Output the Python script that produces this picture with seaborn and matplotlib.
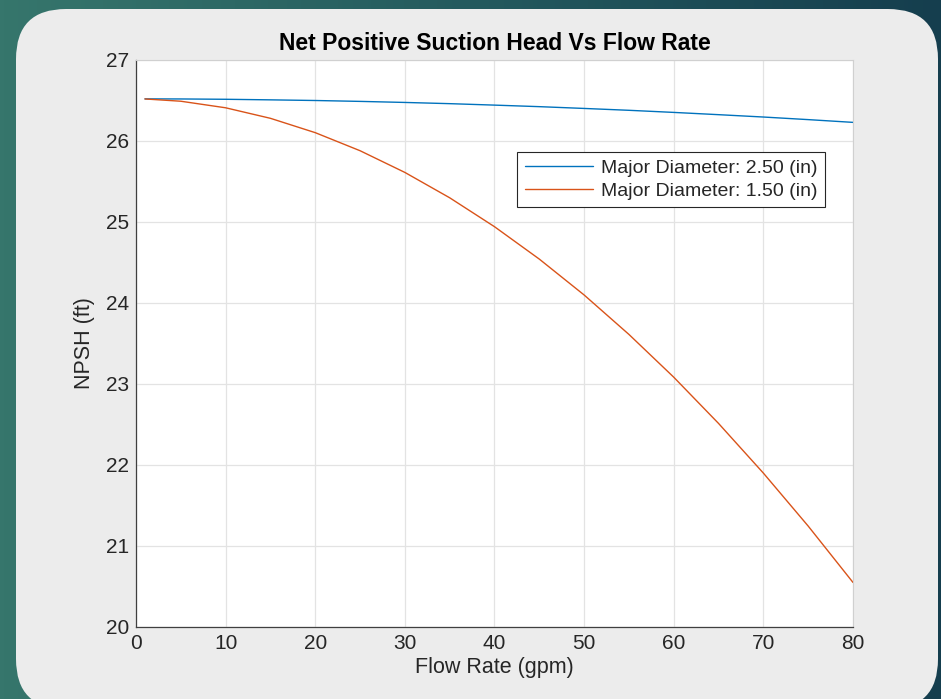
# NPSH vs flow rate for two major diameters

import numpy as np
import pandas as pd
import matplotlib
matplotlib.use("Agg")
import matplotlib.pyplot as plt
from matplotlib.patches import FancyBboxPatch
from matplotlib.colors import LinearSegmentedColormap
import seaborn as sns

# Data
flow_gpm = [1, 5, 10, 15, 20, 25, 30, 35, 40, 45, 50, 55, 60, 65, 70, 75, 80]
npsh_d250 = [26.520, 26.519, 26.515, 26.508, 26.500, 26.489, 26.476, 26.461, 26.443,
             26.424, 26.402, 26.379, 26.353, 26.325, 26.296, 26.264, 26.230]
npsh_d150 = [26.519, 26.491, 26.410, 26.280, 26.103, 25.880, 25.612, 25.299, 24.942,
             24.542, 24.099, 23.612, 23.084, 22.513, 21.900, 21.246, 20.550]
series_labels = ["Major Diameter: 2.50 (in)", "Major Diameter: 1.50 (in)"]
x_ticks = [0, 10, 20, 30, 40, 50, 60, 70, 80]
y_ticks = [20, 21, 22, 23, 24, 25, 26, 27]

df = pd.DataFrame({
    "Flow Rate (gpm)": flow_gpm * 2,
    "NPSH (ft)": npsh_d250 + npsh_d150,
    "series": [series_labels[0]] * len(flow_gpm) + [series_labels[1]] * len(flow_gpm),
})

sns.set_style("white")
plt.rcParams['font.family'] = ['Liberation Sans', 'DejaVu Sans']

fig = plt.figure(figsize=(9.41, 6.99), dpi=100)

# slide background: teal gradient with a rounded light panel
bg = fig.add_axes([0, 0, 1, 1], zorder=0)
cmap = LinearSegmentedColormap.from_list("slide", ["#36766c", "#245a5e", "#153e4e"])
grad = np.linspace(0, 1, 256).reshape(1, -1)
bg.imshow(grad, cmap=cmap, aspect="auto", extent=[0, 941, 699, 0])
bg.add_patch(FancyBboxPatch((16, 9), 922, 700, boxstyle="round,pad=0,rounding_size=50",
                            fc="#ececec", ec="none"))
bg.set_xlim(0, 941)
bg.set_ylim(699, 0)
bg.axis("off")

ax = fig.add_axes([136 / 941, 1 - 627 / 699, 717 / 941, 567 / 699], zorder=1)
ax.set_facecolor("white")
sns.lineplot(data=df, x="Flow Rate (gpm)", y="NPSH (ft)", hue="series",
             palette=["#0072BD", "#D95319"], linewidth=1.0, ax=ax)

ax.set_xlim(0, 80)
ax.set_ylim(20, 27)
ax.set_xticks(x_ticks)
ax.set_yticks(y_ticks)
ax.grid(True, color="#e3e3e3", linewidth=0.9)
ax.tick_params(direction="in", length=6, width=0.8, color="#404040",
               labelsize=15, labelcolor="#262626", pad=5)
for side in ["left", "bottom"]:
    ax.spines[side].set_color("#404040")
    ax.spines[side].set_linewidth(0.9)
for side in ["top", "right"]:
    ax.spines[side].set_color("#d0d0d0")
    ax.spines[side].set_linewidth(0.8)

ax.set_xlabel("Flow Rate (gpm)", fontsize=15.5, color="#262626", labelpad=3)
ax.set_ylabel("NPSH (ft)", fontsize=15.5, color="#262626", labelpad=8)
ax.set_title("Net Positive Suction Head Vs Flow Rate", fontsize=16.5, fontweight="bold",
             color="black", pad=7)

leg = ax.legend(loc="upper right", bbox_to_anchor=(0.961, 0.838), borderaxespad=0,
                fontsize=14, frameon=True, fancybox=False, edgecolor="#262626",
                framealpha=1, handlelength=3.5, borderpad=0.4, labelspacing=0.25,
                handletextpad=0.4)
leg.get_frame().set_linewidth(0.8)

plt.savefig("out.png", dpi=100)
